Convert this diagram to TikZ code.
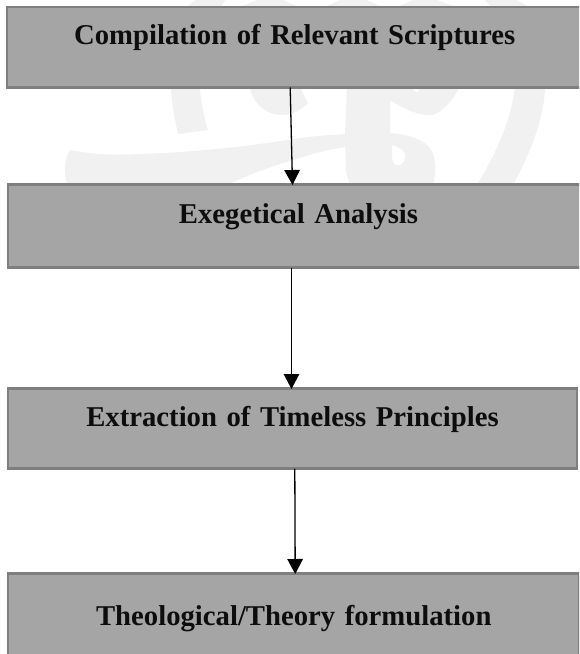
\documentclass[tikz,border=0pt]{standalone}
\usepackage{fontspec}
\setmainfont{Liberation Serif}
\usetikzlibrary{arrows.meta}
\definecolor{wm}{HTML}{F1F1F1}
\definecolor{boxfill}{HTML}{A5A5A5}
\definecolor{boxline}{HTML}{7F7F7F}
\tikzset{
  stagebox/.style={draw=boxline,fill=boxfill,line width=2.4pt,inner sep=0pt,outer sep=0pt,anchor=north west,align=center,font=\fontsize{28.7}{32}\selectfont\bfseries,text=black!95},
  flow/.style={line width=1.3pt,-{Triangle[length=15pt,width=15.5pt]},shorten >=-0.5pt}
}
\begin{document}
\begin{tikzpicture}[x=1pt,y=-1pt]
\useasboundingbox (0,0) rectangle (579,654);
\clip (0,0) rectangle (579,654);
% watermark
\fill[wm] (188,6)--(195,0)--(225,0)--(222,6)--cycle;
\fill[wm] (242,6)--(257,0)--(283,0)--(297,6)--cycle;
\fill[wm] (327,6)--(340,0)--(367,0)--(380,6)--cycle;
\fill[wm] (400,6)--(413,0)--(437,0)--(453,6)--cycle;
\fill[wm] (490,6)--(485,0)--(517,0)--(527,6)--cycle;
\fill[wm] (171,85)--(200,85) .. controls (200,100) and (204,115) .. (207.7,130) -- (178.3,134) .. controls (174,118) and (171,100) .. (171,85)--cycle;
\fill[wm] (70,150) .. controls (95,155) and (115,155) .. (140,154) .. controls (200,152) and (250,146) .. (300,138) .. controls (315,136) and (330,135) .. (346,134) -- (346,147) .. controls (330,149) and (315,153) .. (300,158) .. controls (275,165) and (250,174) .. (227,185) -- (68,185) .. controls (63,172) and (64,160) .. (70,150) -- cycle;
\fill[wm] (249,85) .. controls (252,102) and (265,115) .. (282,115) .. controls (292,115) and (302,110) .. (308,103) .. controls (305,98) and (302,92) .. (300,85) -- cycle;
\fill[wm,even odd rule] (347,85) -- (345,134) -- (346,172) -- (350,185) -- (433,185) .. controls (437,170) and (436,157) .. (430,148) .. controls (422,138) and (405,134) .. (390,133) -- (390,100) .. controls (405,110) and (420,116) .. (433,115) .. controls (445,110) and (455,98) .. (460,85) -- (422,85) -- (417,93) -- (408,85) -- cycle
 (392,145) .. controls (399,147) and (406,150) .. (405,157) .. controls (405,163) and (400,166) .. (397,165) .. controls (393,165) and (392,160) .. (392,155) -- cycle;
\fill[wm] (515,85) -- (545,85) .. controls (545,115) and (532,150) .. (513,185) -- (477,185) .. controls (495,155) and (512,120) .. (515,85) -- cycle;
% stages
\node[stagebox,text width=575pt,text height=37.3pt,text depth=43.2pt] (a) at (7.2,7) {Compilation of Relevant Scriptures};
\node[stagebox,text width=581pt,text height=38.8pt,text depth=44.2pt] (b) at (8,184.5) {Exegetical Analysis};
\node[stagebox,text width=569pt,text height=38.2pt,text depth=41.8pt] (c) at (8,388.5) {Extraction of Timeless Principles};
\node[stagebox,text width=571.6pt,text height=52.2pt,text depth=40pt] (d) at (8,573.5) {Theological/Theory formulation};
% connectors
\draw[flow] ([xshift=283pt]a.south west) -- ([xshift=284.5pt]b.north west);
\draw[flow] ([xshift=283.5pt]b.south west) -- ([xshift=283.5pt]c.north west);
\draw[flow] ([xshift=286.8pt]c.south west) -- ([xshift=287.2pt]d.north west);
\end{tikzpicture}
\end{document}
